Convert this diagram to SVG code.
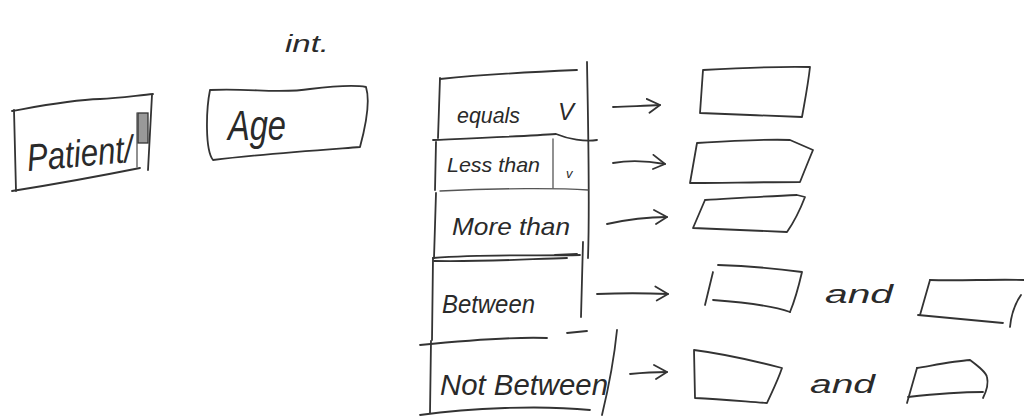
<svg xmlns="http://www.w3.org/2000/svg" width="1024" height="420" viewBox="0 0 1024 420">
<style>
.ln{fill:none;stroke:#333;stroke-width:1.8;stroke-linecap:round;stroke-linejoin:round}
.lt{fill:none;stroke:#555;stroke-width:1.3;stroke-linecap:round}
.tx{font-family:"Liberation Sans",Arial,sans-serif;font-style:italic;fill:#2a2a2a}
.ar{fill:none;stroke:#333;stroke-width:1.8;stroke-linecap:round}
</style>
<defs>
<marker id="head" viewBox="0 0 16 16" refX="14" refY="8" markerWidth="16" markerHeight="16" markerUnits="userSpaceOnUse" orient="auto">
<path d="M1,1 L14,8 L3,15" fill="none" stroke="#333" stroke-width="1.8" stroke-linecap="round" stroke-linejoin="round"/>
</marker>
</defs>
<rect width="1024" height="420" fill="#fff"/>

<g id="int-label">
<text class="tx" x="285" y="52" font-size="24" textLength="44" lengthAdjust="spacingAndGlyphs">int.</text>
</g>

<g id="patient">
<path class="ln" d="M12,111 C40,106 70,100 100,99 C120,98 140,95 153,94"/>
<path class="ln" d="M14,110 L16,191"/>
<path class="ln" d="M12,191 C50,185 100,176 140,168"/>
<path class="ln" d="M152,95 L148,170"/>
<path class="lt" d="M137,113 L137,167"/>
<rect x="138" y="113" width="10" height="30" fill="#999" stroke="#333" stroke-width="1.3"/>
<text class="tx" x="28" y="171" font-size="38" textLength="106" lengthAdjust="spacingAndGlyphs" transform="rotate(-5 28 171)">Patient/</text>
</g>

<g id="age">
<path class="ln" d="M210,90 C250,88 280,94 310,89 C335,86 355,85 366,87 C370,100 366,125 360,147 C320,150 260,154 213,160 C205,150 206,110 210,90"/>
<text class="tx" x="228" y="140" font-size="42" textLength="58" lengthAdjust="spacingAndGlyphs">Age</text>
</g>

<g id="op-equals">
<path class="ln" d="M440,79 C480,75 530,72 577,70"/>
<path class="ln" d="M587,62 C588,120 590,200 588,258"/>
<path class="ln" d="M440,78 L438,138"/>
<path class="ln" d="M433,140 C480,138 530,136 556,134 C568,139 585,142 597,140"/>
<text class="tx" x="457" y="123" font-size="22" textLength="63" lengthAdjust="spacingAndGlyphs">equals</text>
<text class="tx" x="558" y="120" font-size="24">V</text>
</g>

<g id="op-less">
<path class="ln" d="M436,142 L435,190"/>
<path class="lt" d="M553,139 L553,188"/>
<path class="lt" d="M440,191 C500,188 560,188 588,190"/>
<text class="tx" x="447" y="172" font-size="21" textLength="93" lengthAdjust="spacingAndGlyphs">Less than</text>
<text class="tx" x="566" y="178" font-size="13">v</text>
</g>

<g id="op-more">
<path class="ln" d="M436,193 L434,258"/>
<path class="ln" d="M433,258 C490,254 540,256 580,255"/>
<text class="tx" x="452" y="235" font-size="24" textLength="118" lengthAdjust="spacingAndGlyphs">More than</text>
</g>

<g id="op-between">
<path class="ln" d="M434,261 C480,262 530,259 567,258"/>
<path class="ln" d="M555,255 L577,254"/>
<path class="ln" d="M583,242 L581,317"/>
<path class="ln" d="M433,258 L432,340"/>
<path class="ln" d="M420,345 C470,340 520,337 547,338"/>
<path class="ln" d="M567,333 L587,331"/>
<text class="tx" x="442" y="313" font-size="26" textLength="93" lengthAdjust="spacingAndGlyphs">Between</text>
</g>

<g id="op-not-between">
<path class="ln" d="M431,341 L430,413"/>
<path class="ln" d="M617,330 C614,360 608,390 602,415"/>
<path class="ln" d="M420,415 C470,408 540,405 590,410"/>
<text class="tx" x="440" y="395" font-size="30" textLength="168" lengthAdjust="spacingAndGlyphs">Not Between</text>
</g>

<g id="input-equals">
<path class="ln" d="M703,70 C740,68 780,66 810,67 C808,85 805,100 802,117 C770,116 730,114 700,113 L703,70"/>
</g>
<g id="input-less">
<path class="ln" d="M697,143 C730,141 770,139 790,140 L813,150 C808,162 804,172 800,182 C760,182 720,183 690,183 L697,143"/>
</g>
<g id="input-more">
<path class="ln" d="M705,200 C740,198 770,196 797,195 L805,197 C800,210 794,222 787,232 C760,231 720,229 693,228 L705,200"/>
</g>

<g id="input-between-1">
<path class="ln" d="M718,265 C750,266 780,269 802,272 C799,285 795,300 790,312"/>
<path class="ln" d="M713,272 L705,305"/>
<path class="ln" d="M713,300 C740,302 770,305 790,312"/>
</g>
<g id="and-between">
<text class="tx" x="825" y="303" font-size="26" textLength="68" lengthAdjust="spacingAndGlyphs">and</text>
</g>
<g id="input-between-2">
<path class="ln" d="M930,280 C960,281 995,279 1024,280"/>
<path class="ln" d="M930,280 L920,315"/>
<path class="ln" d="M918,315 C950,318 980,321 1003,323"/>
<path class="ln" d="M1021,295 C1014,305 1011,316 1010,327"/>
</g>

<g id="input-notbetween-1">
<path class="ln" d="M694,350 C725,354 755,361 782,368 C778,380 772,392 767,403 C740,401 720,399 695,398 L694,350"/>
</g>
<g id="and-notbetween">
<text class="tx" x="810" y="393" font-size="26" textLength="65" lengthAdjust="spacingAndGlyphs">and</text>
</g>
<g id="input-notbetween-2">
<path class="ln" d="M917,368 C935,365 955,361 970,360 C978,366 986,372 987,377 C989,385 986,392 983,398"/>
<path class="ln" d="M917,368 L907,403"/>
<path class="ln" d="M908,397 C935,394 960,392 983,392"/>
</g>

<g id="connectors">
<path class="ar" d="M613,107 C630,106 645,106 660,105" marker-end="url(#head)"/>
<path class="ar" d="M613,163 C630,160 648,161 665,164" marker-end="url(#head)"/>
<path class="ar" d="M607,224 C625,220 645,217 667,217" marker-end="url(#head)"/>
<path class="ar" d="M597,294 C620,293 645,293 668,294" marker-end="url(#head)"/>
<path class="ar" d="M630,374 C640,373 655,372 667,372" marker-end="url(#head)"/>
</g>
</svg>
